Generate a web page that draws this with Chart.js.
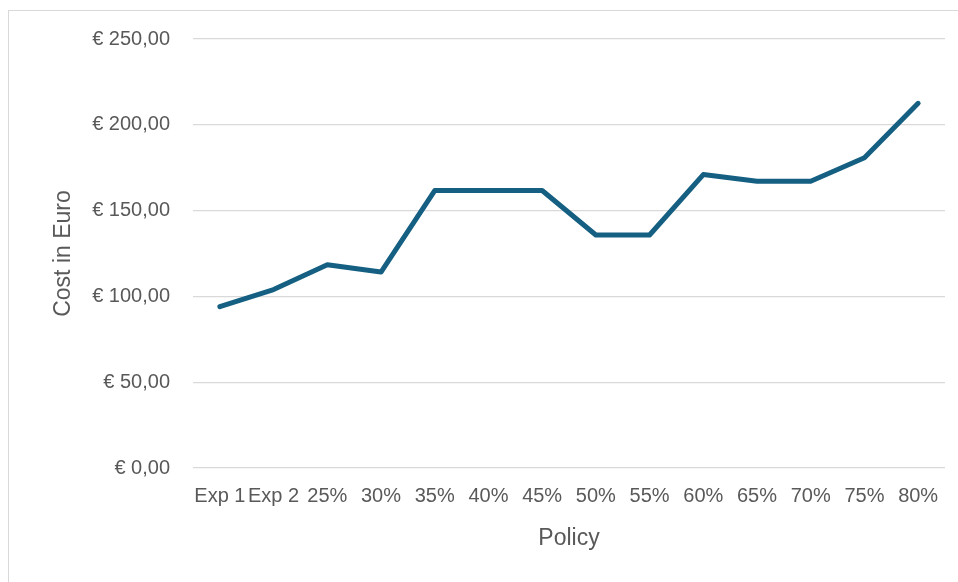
<!DOCTYPE html>
<html>
<head>
<meta charset="utf-8" />
<script src="https://cdn.jsdelivr.net/npm/chart.js@4/dist/chart.umd.min.js"></script>
<style>
  html, body { margin: 0; padding: 0; background: #fff; overflow: hidden; }
  #frame {
    position: absolute; left: 8px; top: 10px; width: 1000px; height: 700px;
    border: 1.5px solid #d9d9d9; box-sizing: border-box;
  }
  #wrap { position: absolute; left: 0; top: 0; width: 958px; height: 582px; }
</style>
</head>
<body>
<div id="frame"></div>
<div id="wrap"><canvas id="canvas" width="958" height="582"></canvas></div>

<script>
  // categories on the x axis
  var policies = ["Exp 1", "Exp 2", "25%", "30%", "35%", "40%", "45%", "50%", "55%", "60%", "65%", "70%", "75%", "80%"];
  // cost per policy
  var costs = [94.0, 104.0, 118.5, 114.2, 161.7, 161.7, 161.7, 135.8, 135.8, 171.0, 167.1, 167.1, 180.8, 212.5];
  var yMin = 0;
  var yMax = 250;
  var yStep = 50;

  var textColor = "#595959";
  var fontFamily = "'Liberation Sans', Arial, sans-serif";

  function euro(v) {
    return "€ " + Number(v).toFixed(2).replace(".", ",");
  }

  var ctx = document.getElementById("canvas").getContext("2d");

  new Chart(ctx, {
    type: "line",
    data: {
      labels: policies,
      datasets: [
        {
          label: "Cost",
          data: costs,
          borderColor: "#156082",
          borderWidth: 5,
          borderJoinStyle: "round",
          borderCapStyle: "round",
          pointRadius: 0,
          tension: 0,
          fill: false,
        },
      ],
    },
    options: {
      responsive: false,
      animation: false,
      layout: {
        padding: { left: 0, top: 39, right: 13, bottom: 0 },
      },
      plugins: {
        legend: { display: false },
        tooltip: { enabled: false },
      },
      scales: {
        x: {
          offset: true,
          grid: { display: false, drawTicks: false },
          border: { display: false },
          ticks: {
            color: textColor,
            font: { family: fontFamily, size: 20 },
            padding: 16,
            maxRotation: 0,
            autoSkip: false,
          },
          title: {
            display: true,
            text: "Policy",
            color: textColor,
            font: { family: fontFamily, size: 23 },
            padding: { top: 0, bottom: 30 },
          },
          afterFit: function (scale) {
            scale.height = 114;
          },
        },
        y: {
          min: yMin,
          max: yMax,
          grid: { color: "#d9d9d9", lineWidth: 1.2, drawTicks: false },
          border: { display: false },
          ticks: {
            stepSize: yStep,
            color: textColor,
            font: { family: fontFamily, size: 20 },
            padding: 23,
            callback: function (value) {
              return euro(value);
            },
          },
          title: {
            display: true,
            text: "Cost in Euro",
            color: textColor,
            font: { family: fontFamily, size: 23 },
            padding: { top: 50, bottom: 0 },
          },
          afterFit: function (scale) {
            scale.width = 193;
          },
        },
      },
    },
  });
</script>
</body>
</html>
